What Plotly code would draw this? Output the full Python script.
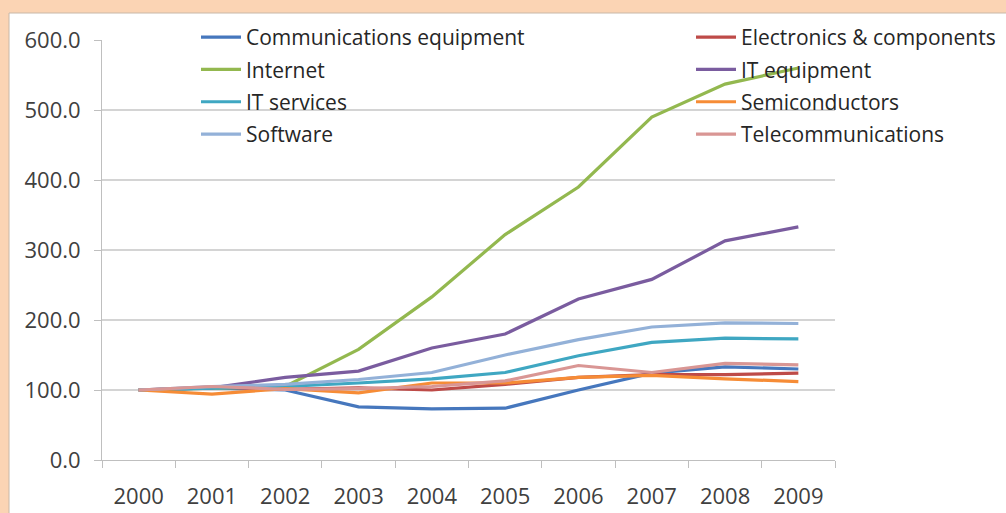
import plotly.graph_objects as go

years = ["2000", "2001", "2002", "2003", "2004", "2005", "2006", "2007", "2008", "2009"]

comm_equipment = [100, 103, 100, 76, 73, 74, 100, 124, 133, 130]
electronics = [100, 104, 101, 103, 100, 108, 118, 122, 122, 124]
internet = [100, 103, 105, 158, 233, 322, 390, 490, 537, 560]
it_equipment = [100, 103, 118, 127, 160, 180, 230, 258, 313, 333]
it_services = [100, 102, 105, 110, 116, 125, 149, 168, 174, 173]
semiconductors = [100, 94, 102, 96, 110, 110, 118, 121, 116, 112]
software = [100, 105, 108, 115, 125, 150, 172, 190, 196, 195]
telecom = [100, 105, 101, 102, 105, 113, 135, 125, 138, 136]

series = [
    ("Communications equipment", comm_equipment, "#4677BD", "legend"),
    ("Electronics & components", electronics, "#BE4B48", "legend2"),
    ("Internet", internet, "#93B84F", "legend"),
    ("IT equipment", it_equipment, "#7A5C9F", "legend2"),
    ("IT services", it_services, "#3FA7C2", "legend"),
    ("Semiconductors", semiconductors, "#F68C36", "legend2"),
    ("Software", software, "#93B1D8", "legend"),
    ("Telecommunications", telecom, "#D99694", "legend2"),
]

FONT = "Open Sans, sans-serif"

fig = go.Figure()
for name, vals, col, lg in series:
    fig.add_trace(go.Scatter(x=years, y=vals, name=name, mode="lines", legend=lg,
                             legendgroup=name,
                             line=dict(color=col, width=3.2)))

L, R, T, B = 102, 171, 40, 53
W, H = 1006, 513
pw, ph = W - L - R, H - T - B

# white panel over peach background
fig.add_shape(type="rect", xref="paper", yref="paper",
              x0=(9 - L) / pw, x1=(W + 5 - L) / pw,
              y0=(H - B - (H + 5)) / ph, y1=(H - B - 13) / ph,
              fillcolor="white", line=dict(color="#C8B8A8", width=1), layer="below")

legend_common = dict(orientation="v", xanchor="left", yanchor="top",
                     y=(H - B - 17) / ph, bgcolor="rgba(0,0,0,0)",
                     font=dict(size=21, color="#262626", family=FONT),
                     tracegroupgap=2, itemwidth=40)

fig.update_layout(
    template="none",
    width=W, height=H,
    margin=dict(l=L, r=R, t=T, b=B, autoexpand=False),
    paper_bgcolor="#FBD4B4",
    plot_bgcolor="rgba(0,0,0,0)",
    font=dict(family=FONT, color="#404040", size=22),
    showlegend=True,
    legend=dict(x=(196 - L) / pw, **legend_common),
    legend2=dict(x=(691 - L) / pw, **legend_common),
    xaxis=dict(type="category", range=[-0.5, 9.5], showgrid=False, automargin=False,
               showline=True, linecolor="#BFBFBF", linewidth=1, zeroline=False,
               ticks="outside", ticklen=7, tickcolor="#BFBFBF", tickson="boundaries",
               ticklabelstandoff=17, tickfont=dict(size=22, color="#404040")),
    yaxis=dict(range=[0, 600], dtick=100, tickformat=".1f", showgrid=True, automargin=False,
               gridcolor="#D4D4D4", gridwidth=1.8, zeroline=False,
               showline=True, linecolor="#BFBFBF", linewidth=1,
               ticks="outside", ticklen=7, tickcolor="#BFBFBF",
               ticklabelstandoff=9, tickfont=dict(size=22, color="#404040")),
)

fig.write_html("out.html", config={"displayModeBar": False},
               post_script="document.body.style.margin='0';document.body.style.overflow='hidden';")
